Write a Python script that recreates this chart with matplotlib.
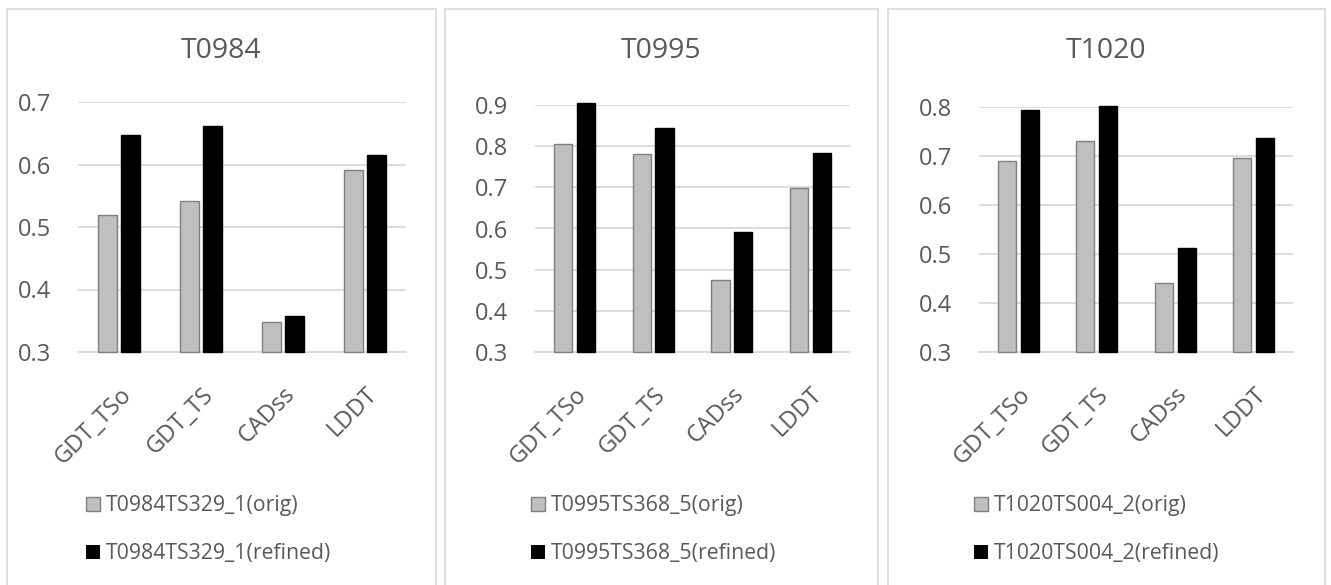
import matplotlib
matplotlib.use("Agg")
import matplotlib.pyplot as plt
from matplotlib.patches import Rectangle, Patch
import numpy as np

plt.rcParams["font.family"] = ["Open Sans", "DejaVu Sans"]

metrics = ["GDT_TSo", "GDT_TS", "CADss", "LDDT"]
targets = ["T0984", "T0995", "T1020"]
models = ["T0984TS329_1", "T0995TS368_5", "T1020TS004_2"]

orig_t0984 = [0.520, 0.542, 0.348, 0.591]
refined_t0984 = [0.648, 0.661, 0.357, 0.615]
orig_t0995 = [0.805, 0.780, 0.476, 0.699]
refined_t0995 = [0.905, 0.843, 0.591, 0.783]
orig_t1020 = [0.690, 0.731, 0.441, 0.696]
refined_t1020 = [0.793, 0.803, 0.513, 0.737]

ybase = 0.3
ytops = [0.7, 0.9, 0.8]

W, H = 1331, 585
fig = plt.figure(figsize=(W / 100, H / 100), dpi=100)

# panel frames and axes boxes, in pixels
frames = [(7, 436), (445, 878), (888, 1325)]
axboxes = [(78, 406, 102), (535, 850, 105), (979, 1293, 107)]
legend_x = [85, 530, 973]

text_col = "#595959"
grid_col = "#d9d9d9"

data = [(orig_t0984, refined_t0984), (orig_t0995, refined_t0995), (orig_t1020, refined_t1020)]

for i in range(3):
    fl, fr = frames[i]
    fig.patches.append(Rectangle((fl / W, -0.1), (fr - fl) / W, (H - 9) / H + 0.1,
                                 transform=fig.transFigure, fill=False,
                                 edgecolor=grid_col, lw=1.2))
    fig.text((fl + fr) / 2 / W, 1 - 51 / H, targets[i], ha="center", va="center",
             fontsize=20.5, color=text_col)

    l, r, t = axboxes[i]
    ax = fig.add_axes([l / W, (H - 352) / H, (r - l) / W, (352 - t) / H])
    orig, refined = data[i]
    x = np.arange(len(metrics))
    w = 0.23
    # bars start at the axis floor (0.3), as in the original chart
    ax.bar(x - 0.145, np.array(orig) - ybase, w, bottom=ybase, color="#bfbfbf",
           edgecolor="#7f7f7f", lw=1.0, zorder=3, clip_on=False)
    ax.bar(x + 0.145, np.array(refined) - ybase, w, bottom=ybase, color="black",
           edgecolor="black", lw=1.0, zorder=3, clip_on=False)
    ax.set_ylim(ybase, ytops[i])
    ax.set_xlim(-0.5, 3.5)
    yt = np.arange(ybase, ytops[i] + 0.001, 0.1)
    ax.set_yticks(yt)
    ax.set_yticklabels([f"{v:.1f}" for v in yt])
    ax.set_xticks(x)
    ax.set_xticklabels(metrics, rotation=45, ha="right", rotation_mode="anchor")
    ax.tick_params(axis="both", length=0, labelsize=17, labelcolor=text_col)
    ax.tick_params(axis="y", pad=19)
    ax.tick_params(axis="x", pad=22)
    ax.yaxis.grid(True, color=grid_col, lw=1.3, zorder=0)
    for s in ["top", "right", "left"]:
        ax.spines[s].set_visible(False)
    ax.spines["bottom"].set_color(grid_col)
    ax.spines["bottom"].set_linewidth(1.3)

    handles = [Patch(facecolor="#bfbfbf", edgecolor="#7f7f7f"), Patch(facecolor="black")]
    ax.legend(handles, [models[i] + "(orig)", models[i] + "(refined)"],
              loc="upper left", bbox_to_anchor=((legend_x[i] - 8) / W, 1 - 487 / H),
              bbox_transform=fig.transFigure, frameon=False, fontsize=15.3,
              labelcolor=text_col, handlelength=0.68, handleheight=0.68,
              handletextpad=0.3, labelspacing=1.26, borderaxespad=0)

fig.savefig("out.png", dpi=100)
